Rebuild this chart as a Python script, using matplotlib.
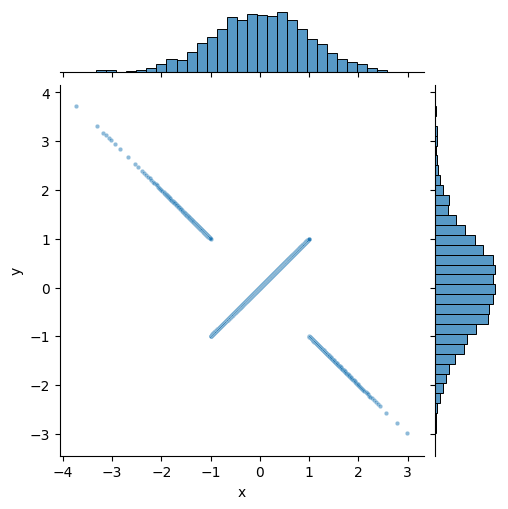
import matplotlib
matplotlib.use("Agg")
import matplotlib.pyplot as plt
import numpy as np
import pandas as pd
import seaborn as sns

x_lo, x_hi = -3.83, 3.09
x_counts = [1, 0, 1, 4, 2, 1, 3, 6, 9, 19, 15, 28, 40, 50, 59, 78, 73,
            83, 81, 79, 86, 72, 59, 43, 39, 24, 18, 13, 9, 5, 1, 1, 1]

edges = np.linspace(x_lo, x_hi, len(x_counts) + 1)
xs = []
for lo, hi, c in zip(edges[:-1], edges[1:], x_counts):
    xs.extend(lo + (np.arange(c) + 0.5) / max(c, 1) * (hi - lo))
xs = np.array(xs)
# y follows x inside [-1, 1] and flips sign outside
ys = np.where(np.abs(xs) <= 1, xs, -xs)
df = pd.DataFrame({"x": xs, "y": ys})

g = sns.JointGrid(data=df, x="x", y="y", height=5)
g.plot_joint(sns.scatterplot, s=10, alpha=0.5)
sns.histplot(x=df["x"], bins=len(x_counts), ax=g.ax_marg_x)
sns.histplot(y=df["y"], bins=len(x_counts), ax=g.ax_marg_y)
g.ax_joint.set_xticks([-4, -3, -2, -1, 0, 1, 2, 3])
g.ax_joint.set_yticks([-3, -2, -1, 0, 1, 2, 3, 4])
g.ax_joint.set_ylim(-3.45, 4.15)
g.figure.set_size_inches(5.08, 5.09)
g.ax_joint.set_position([0.119, 0.103, 0.716, 0.728])
g.ax_marg_x.set_position([0.119, 0.856, 0.716, 0.124])
g.ax_marg_y.set_position([0.858, 0.103, 0.124, 0.728])
g.savefig("out.png", dpi=100)
